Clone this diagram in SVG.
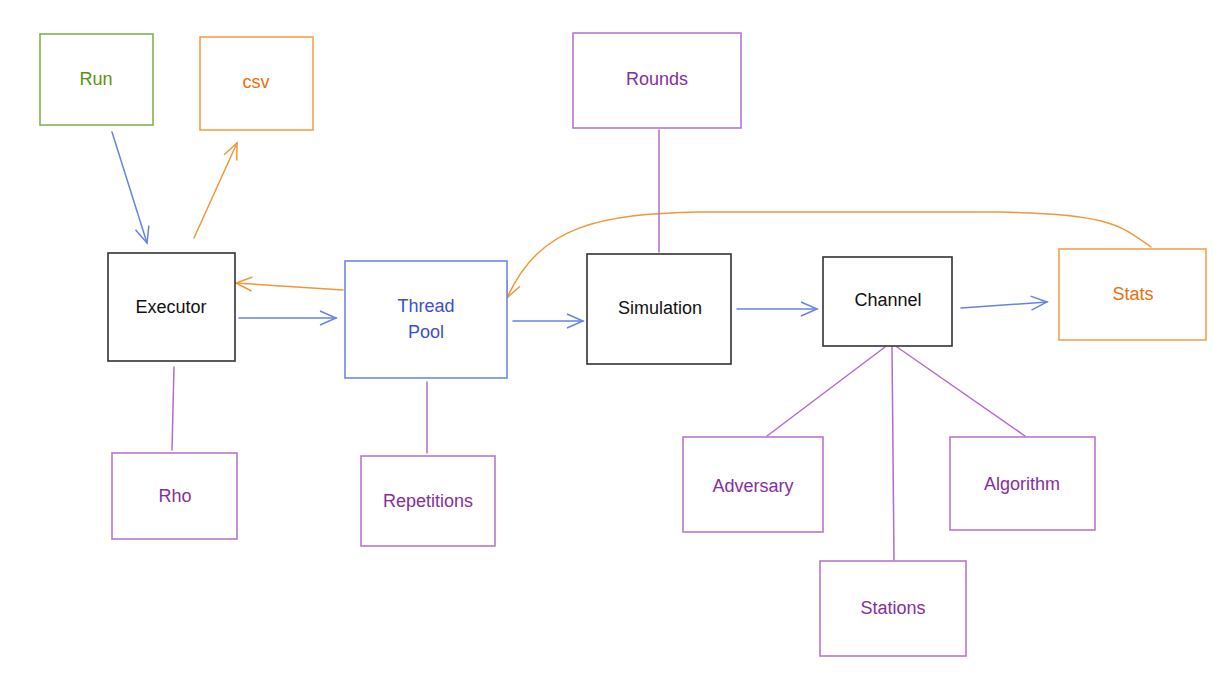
<svg xmlns="http://www.w3.org/2000/svg" width="1213" height="673" viewBox="0 0 1213 673">
<defs>
<style>
.box{fill:#fff;stroke-width:1.6}
.t{font-family:"Liberation Sans",Arial,sans-serif;font-size:18px;text-anchor:middle;dominant-baseline:central}
.k{stroke:#333}.kt{fill:#111}
.g{stroke:#82b34a}.gt{fill:#5c940d}
.o{stroke:#f5a04c}.ot{fill:#e8700c}
.b{stroke:#6f87e6}.bt{fill:#3b4fc9}
.p{stroke:#b877cc}.pt{fill:#862e9c}
.c{fill:none;stroke-width:1.5;stroke-linecap:round}
.cb{stroke:#6a82e0}.co{stroke:#f0973a}.cp{stroke:#b36dc8}
</style>
<marker id="ab" viewBox="0 0 20 20" refX="18" refY="10" markerWidth="20" markerHeight="20" markerUnits="userSpaceOnUse" orient="auto"><path d="M2 3 L18 10 L2 17" fill="none" stroke="#6a82e0" stroke-width="1.5"/></marker>
<marker id="ao" viewBox="0 0 20 20" refX="18" refY="10" markerWidth="20" markerHeight="20" markerUnits="userSpaceOnUse" orient="auto"><path d="M2 3 L18 10 L2 17" fill="none" stroke="#f0973a" stroke-width="1.5"/></marker>
</defs>
<rect width="1213" height="673" fill="#fff"/>
<g id="connectors">
<path class="c cb" d="M112 132 L147 243" marker-end="url(#ab)"/>
<path class="c co" d="M194 238 L237 143" marker-end="url(#ao)"/>
<path class="c co" d="M343 290 L236 283" marker-end="url(#ao)"/>
<path class="c cb" d="M239 318 L336 318" marker-end="url(#ab)"/>
<path class="c cb" d="M513 321 L583 321" marker-end="url(#ab)"/>
<path class="c cb" d="M737 309 L817 309" marker-end="url(#ab)"/>
<path class="c cb" d="M961 308 L1047 302" marker-end="url(#ab)"/>
<path class="c co" d="M1151 247 C1120 225 1110 214 1000 212 L700 212 C600 214 540 225 507 298" marker-end="url(#ao)"/>
<path class="c cp" d="M659 130 L659 252"/>
<path class="c cp" d="M174 367 L172 450"/>
<path class="c cp" d="M427 382 L427 453"/>
<path class="c cp" d="M885 347 L767 436"/>
<path class="c cp" d="M892 347 L894 560"/>
<path class="c cp" d="M897 347 L1025 436"/>
</g>
<g id="run"><rect class="box g" x="40" y="34" width="113" height="91"/><text class="t gt" x="96" y="79">Run</text></g>
<g id="csv"><rect class="box o" x="200" y="37" width="113" height="93"/><text class="t ot" x="256" y="82">csv</text></g>
<g id="rounds"><rect class="box p" x="573" y="33" width="168" height="95"/><text class="t pt" x="657" y="79">Rounds</text></g>
<g id="executor"><rect class="box k" x="108" y="253" width="127" height="108"/><text class="t kt" x="171" y="307">Executor</text></g>
<g id="threadpool"><rect class="box b" x="345" y="261" width="162" height="117"/><text class="t bt" x="426" y="306">Thread</text><text class="t bt" x="426" y="332">Pool</text></g>
<g id="simulation"><rect class="box k" x="587" y="254" width="144" height="110"/><text class="t kt" x="660" y="308">Simulation</text></g>
<g id="channel"><rect class="box k" x="823" y="257" width="129" height="89"/><text class="t kt" x="888" y="300">Channel</text></g>
<g id="stats"><rect class="box o" x="1059" y="249" width="147" height="91"/><text class="t ot" x="1133" y="294">Stats</text></g>
<g id="rho"><rect class="box p" x="112" y="453" width="125" height="86"/><text class="t pt" x="175" y="496">Rho</text></g>
<g id="repetitions"><rect class="box p" x="361" y="456" width="134" height="90"/><text class="t pt" x="428" y="501">Repetitions</text></g>
<g id="adversary"><rect class="box p" x="683" y="437" width="140" height="95"/><text class="t pt" x="753" y="486">Adversary</text></g>
<g id="algorithm"><rect class="box p" x="950" y="437" width="145" height="93"/><text class="t pt" x="1022" y="484">Algorithm</text></g>
<g id="stations"><rect class="box p" x="820" y="561" width="146" height="95"/><text class="t pt" x="893" y="608">Stations</text></g>
</svg>
